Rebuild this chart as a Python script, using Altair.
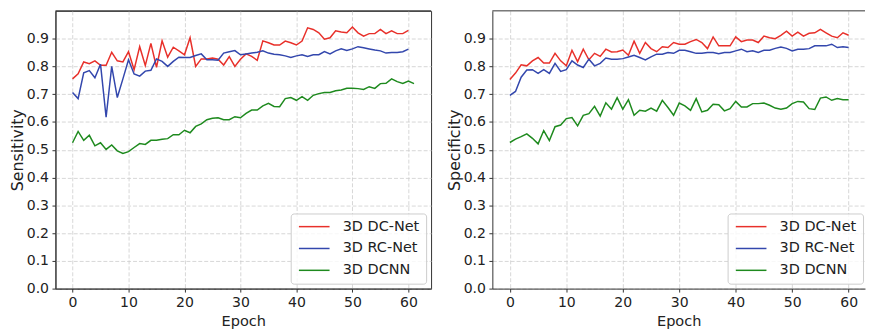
import altair as alt
import pandas as pd

models = ["3D DC-Net", "3D RC-Net", "3D DCNN"]
colors = ["#e8302a", "#3347ad", "#1e8a1e"]
x_ticks = [0, 10, 20, 30, 40, 50, 60]
y_ticks = [0.0, 0.1, 0.2, 0.3, 0.4, 0.5, 0.6, 0.7, 0.8, 0.9]

sens_dc = [0.755, 0.773, 0.816, 0.81, 0.82, 0.804, 0.804, 0.851, 0.82, 0.816,
           0.853, 0.788, 0.871, 0.803, 0.883, 0.797, 0.892, 0.833, 0.869, 0.856,
           0.842, 0.903, 0.80, 0.827, 0.827, 0.83, 0.826, 0.805, 0.835, 0.80,
           0.826, 0.845, 0.836, 0.822, 0.892, 0.885, 0.877, 0.877, 0.891, 0.885,
           0.877, 0.891, 0.939, 0.933, 0.921, 0.898, 0.903, 0.928, 0.924, 0.921,
           0.942, 0.921, 0.909, 0.918, 0.918, 0.933, 0.918, 0.928, 0.918, 0.918,
           0.930]
sens_rc = [0.706, 0.684, 0.777, 0.785, 0.759, 0.808, 0.617, 0.80, 0.688, 0.755,
           0.824, 0.773, 0.765, 0.783, 0.786, 0.827, 0.818, 0.80, 0.818, 0.833,
           0.832, 0.832, 0.839, 0.845, 0.824, 0.824, 0.822, 0.848, 0.853, 0.857,
           0.842, 0.845, 0.848, 0.851, 0.856, 0.848, 0.844, 0.842, 0.838, 0.832,
           0.838, 0.842, 0.836, 0.842, 0.842, 0.853, 0.845, 0.856, 0.863, 0.857,
           0.863, 0.871, 0.867, 0.863, 0.859, 0.856, 0.848, 0.85, 0.85, 0.853,
           0.862]
sens_dcnn = [0.525, 0.566, 0.534, 0.552, 0.514, 0.525, 0.501, 0.517, 0.496, 0.487,
             0.493, 0.508, 0.522, 0.519, 0.534, 0.534, 0.538, 0.54, 0.554, 0.554,
             0.57, 0.561, 0.584, 0.593, 0.608, 0.613, 0.615, 0.608, 0.608, 0.619,
             0.615, 0.631, 0.643, 0.643, 0.658, 0.667, 0.656, 0.655, 0.684, 0.688,
             0.678, 0.691, 0.678, 0.696, 0.702, 0.706, 0.706, 0.712, 0.715, 0.721,
             0.721, 0.72, 0.717, 0.727, 0.721, 0.738, 0.739, 0.755, 0.745, 0.739,
             0.747, 0.738]

spec_dc = [0.753, 0.776, 0.806, 0.802, 0.82, 0.832, 0.812, 0.812, 0.847, 0.82,
           0.802, 0.858, 0.817, 0.862, 0.824, 0.847, 0.836, 0.862, 0.852, 0.853,
           0.859, 0.84, 0.891, 0.847, 0.886, 0.864, 0.853, 0.871, 0.868, 0.886,
           0.88, 0.88, 0.889, 0.897, 0.886, 0.864, 0.906, 0.874, 0.874, 0.874,
           0.906, 0.889, 0.895, 0.895, 0.886, 0.909, 0.903, 0.9, 0.912, 0.927,
           0.909, 0.923, 0.909, 0.919, 0.921, 0.933, 0.921, 0.909, 0.903, 0.921,
           0.912]
spec_rc = [0.696, 0.71, 0.761, 0.787, 0.788, 0.775, 0.788, 0.775, 0.811, 0.782,
           0.788, 0.82, 0.805, 0.796, 0.826, 0.802, 0.811, 0.83, 0.826, 0.826,
           0.828, 0.834, 0.84, 0.832, 0.823, 0.834, 0.844, 0.844, 0.85, 0.847,
           0.858, 0.858, 0.853, 0.847, 0.847, 0.85, 0.85, 0.846, 0.85, 0.85,
           0.856, 0.862, 0.853, 0.856, 0.85, 0.858, 0.858, 0.865, 0.87, 0.865,
           0.856, 0.862, 0.862, 0.864, 0.874, 0.874, 0.874, 0.88, 0.868, 0.871,
           0.868]
spec_dcnn = [0.526, 0.538, 0.547, 0.557, 0.541, 0.521, 0.569, 0.533, 0.583, 0.589,
             0.612, 0.616, 0.586, 0.624, 0.63, 0.656, 0.621, 0.669, 0.646, 0.687,
             0.646, 0.68, 0.624, 0.642, 0.639, 0.65, 0.639, 0.678, 0.652, 0.624,
             0.668, 0.658, 0.642, 0.684, 0.636, 0.642, 0.664, 0.662, 0.64, 0.648,
             0.674, 0.654, 0.654, 0.666, 0.666, 0.668, 0.66, 0.65, 0.646, 0.65,
             0.666, 0.674, 0.672, 0.648, 0.645, 0.686, 0.69, 0.678, 0.684, 0.68,
             0.68]


def to_long(series):
    rows = []
    for m, vals in zip(models, series):
        for i, v in enumerate(vals):
            rows.append({"Epoch": i, "value": v, "model": m})
    return pd.DataFrame(rows)


FONT = "DejaVu Sans"
TXT = "#222222"
SPINE = "#333333"


def panel(df, ytitle, xdomain, width, full_frame):
    color = alt.Color(
        "model:N",
        scale=alt.Scale(domain=models, range=colors),
        sort=models,
        legend=alt.Legend(
            title=None, orient="none", legendX=238, legendY=205,
            symbolType="M-1,0H5.2", symbolSize=100, symbolStrokeWidth=1.5,
            labelFont=FONT, labelFontSize=14.6, labelColor=TXT,
            labelOffset=32, rowPadding=7.1, padding=6,
            strokeColor="#cccccc", fillColor="rgba(255,255,255,0.8)",
            cornerRadius=3,
        ),
    )
    y_axis = alt.Axis(values=y_ticks, format=".1f", title=ytitle,
                      titlePadding=1, titleFontSize=16,
                      labelOverlap=False, tickCount=10)
    y_scale = alt.Scale(domain=[0, 1.0], nice=False)
    lines = alt.Chart(df).mark_line(strokeWidth=1.5, clip=True).encode(
        x=alt.X("Epoch:Q",
                scale=alt.Scale(domain=xdomain, nice=False, zero=False),
                axis=alt.Axis(values=x_ticks, format="d", title="Epoch",
                              titlePadding=4, titleFontSize=14.7,
                              labelOverlap=False)),
        y=alt.Y("value:Q", scale=y_scale, axis=y_axis),
        color=color,
    )
    top = alt.Chart(pd.DataFrame({"value": [1.0]})).mark_rule(
        color=SPINE, strokeWidth=1).encode(
        y=alt.Y("value:Q", scale=y_scale, axis=y_axis))
    layer = alt.layer(lines, top).properties(width=width, height=281)
    if not full_frame:
        layer = layer.properties(view=alt.ViewBackground(stroke="transparent"))
    return layer


left = panel(to_long([sens_dc, sens_rc, sens_dcnn]), "Sensitivity",
             [-3.05, 64.05], 380, True)
right = panel(to_long([spec_dc, spec_rc, spec_dcnn]), "Specificity",
              [-3.1, 62.9], 377, False)

chart = (
    alt.hconcat(left, right, spacing=62, bounds="flush")
    .resolve_legend(color="independent")
    .properties(padding=0)
    .configure_view(stroke=SPINE, strokeWidth=1)
    .configure_axis(
        labelFont=FONT, labelFontSize=14.2, labelColor=TXT,
        titleFont=FONT, titleFontSize=14.7, titleFontWeight="normal",
        titleColor=TXT,
        domain=True, domainColor=SPINE, domainWidth=1,
        ticks=True, tickColor=SPINE, tickSize=3.5, tickWidth=1,
        labelPadding=3.5,
        grid=True, gridColor="#cccccc", gridDash=[4, 2], gridWidth=0.8,
    )
)

chart.save("out.html", embed_options={"renderer": "svg", "actions": False})
